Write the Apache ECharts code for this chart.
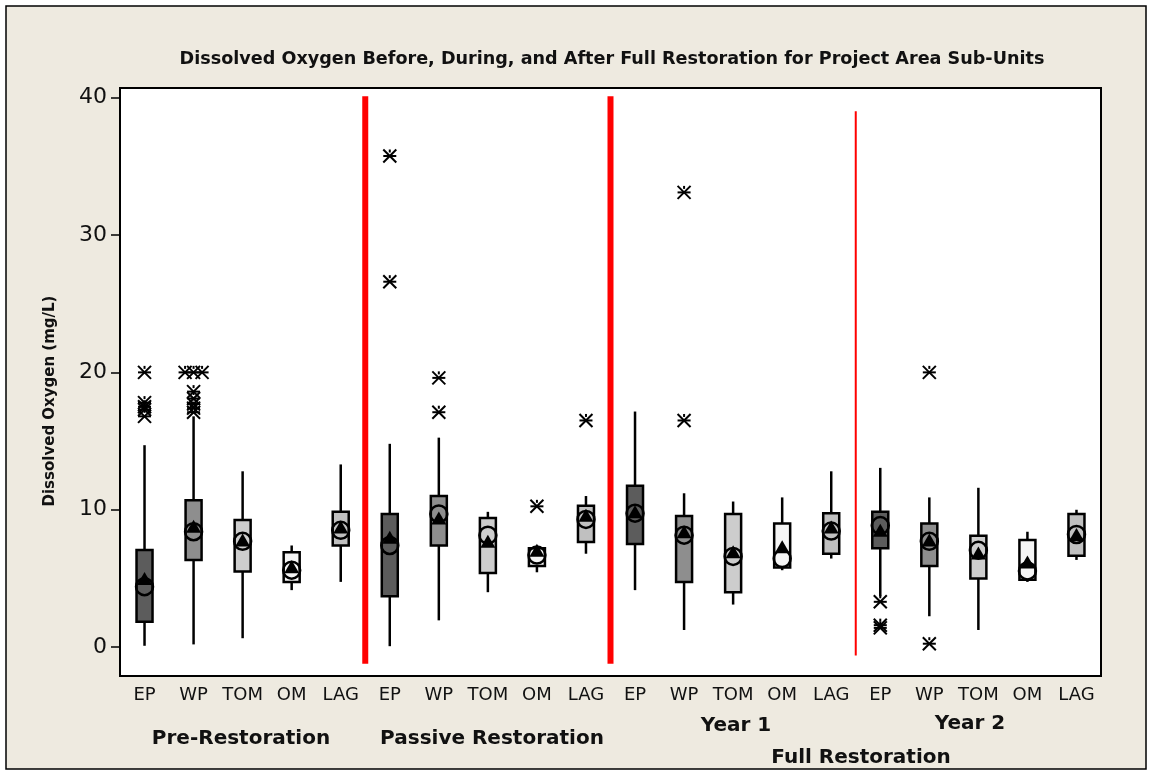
<!DOCTYPE html>
<html>
<head>
<meta charset="utf-8">
<script src="https://cdn.jsdelivr.net/npm/echarts@6/dist/echarts.min.js"></script>
<style>
html,body{margin:0;padding:0;background:#ffffff;}
#chart{width:1151px;height:772px;}
</style>
</head>
<body>
<div id="chart"></div>
<script>
// ---------------- DATA ----------------
const subUnits = ['EP', 'WP', 'TOM', 'OM', 'LAG'];
const phaseNames = ['Pre-Restoration', 'Passive Restoration', 'Year 1', 'Year 2'];
const yTicks = [0, 10, 20, 30, 40];

// per category (20 = 4 phases x 5 sub-units)
const whiskerLow  = [0.1, 0.2, 0.65, 4.15, 4.75,   0.07, 1.95, 4.0, 5.45, 6.8,   4.15, 1.25, 3.1, 5.6, 6.45,   3.7, 2.25, 1.25, 4.75, 6.35];
const boxLow      = [1.85, 6.35, 5.5, 4.75, 7.4,   3.7, 7.4, 5.4, 5.9, 7.65,     7.5, 4.75, 4.0, 5.8, 6.8,     7.2, 5.9, 5.0, 4.9, 6.65];
const boxHigh     = [7.07, 10.7, 9.25, 6.9, 9.85,  9.7, 11.0, 9.4, 7.2, 10.3,    11.75, 9.55, 9.7, 9.0, 9.75,  9.85, 9.0, 8.1, 7.8, 9.7];
const whiskerHigh = [14.7, 16.8, 12.8, 7.4, 13.3,  14.8, 15.25, 9.85, 7.2, 11.0, 17.15, 11.2, 10.6, 10.9, 12.8, 13.05, 10.9, 11.6, 8.4, 10.0];
const triangleMark= [5.0, 8.8, 7.8, 5.85, 8.75,    8.0, 9.4, 7.7, 7.05, 9.6,     9.85, 8.4, 6.95, 7.3, 8.75,   8.5, 7.8, 6.85, 6.2, 8.2];
const circleMark  = [4.4, 8.4, 7.7, 5.6, 8.5,      7.4, 9.7, 8.15, 6.7, 9.3,     9.75, 8.15, 6.6, 6.45, 8.45,  8.85, 7.7, 7.05, 5.55, 8.2];
const outliers = [
  [20.0, 17.8, 17.5, 17.3, 16.8], [20.0, 20.0, 20.0, 18.6, 18.1, 17.7, 17.4, 17.1], [], [], [],
  [35.75, 26.6], [19.6, 17.1], [], [10.25], [16.5],
  [], [33.1, 16.5], [], [], [],
  [3.3, 1.6, 1.4], [20.0, 0.25], [], [], []
];
// phase dividers: after category index, top value, bottom value
const dividerAfter  = [4, 9, 14];
const dividerTop    = [40.1, 40.1, 39.0];
const dividerBottom = [-1.2, -1.2, -0.6];

// ---------------- BUILD ----------------
const categories = [];
for (let p = 0; p < phaseNames.length; p++) subUnits.forEach(s => categories.push(s));
const boxFill = {EP: '#5c5c5c', WP: '#8e8e8e', TOM: '#cdcdcd', OM: '#f5f5f5', LAG: '#c0c0c0'};
const dividerWidth = [6, 6, 2];

const boxData = categories.map((c, i) => [i, whiskerLow[i], boxLow[i], boxHigh[i], whiskerHigh[i]]);
const triData = categories.map((c, i) => [i, triangleMark[i]]);
const circData = categories.map((c, i) => [i, circleMark[i]]);
const outData = [];
outliers.forEach((arr, i) => {
  const counts = {};
  arr.forEach(v => { counts[v] = (counts[v] || 0) + 1; });
  const seen = {};
  arr.forEach(v => {
    const n = counts[v]; const k = seen[v] = (seen[v] === undefined ? 0 : seen[v] + 1);
    outData.push([i, v, (k - (n - 1) / 2) * 8.5]);
  });
});
const divData = dividerAfter.map((a, i) => [a, dividerTop[i], dividerBottom[i], i]);

const chart = echarts.init(document.getElementById('chart'), null, {renderer: 'canvas'});
const FONT = 'DejaVu Sans';

const option = {
  backgroundColor: '#ffffff',
  animation: false,
  graphic: [
    {type: 'rect', shape: {x: 6, y: 6, width: 1140, height: 763}, style: {fill: '#EEEAE0', stroke: '#000', lineWidth: 1.5}, z: -10, silent: true},
    {type: 'text', x: 612, y: 59, style: {text: 'Dissolved Oxygen Before, During, and After Full Restoration for Project Area Sub-Units', font: 'bold 17.6px ' + FONT, fill: '#111', align: 'center', verticalAlign: 'middle'}},
    {type: 'text', x: 50, y: 401, rotation: Math.PI / 2, style: {text: 'Dissolved Oxygen (mg/L)', font: 'bold 15px ' + FONT, fill: '#111', align: 'center', verticalAlign: 'middle'}},
    {type: 'text', x: 241, y: 739, style: {text: phaseNames[0], font: 'bold 20px ' + FONT, fill: '#111', align: 'center', verticalAlign: 'middle'}},
    {type: 'text', x: 492, y: 739, style: {text: phaseNames[1], font: 'bold 20px ' + FONT, fill: '#111', align: 'center', verticalAlign: 'middle'}},
    {type: 'text', x: 736, y: 726, style: {text: phaseNames[2], font: 'bold 20px ' + FONT, fill: '#111', align: 'center', verticalAlign: 'middle'}},
    {type: 'text', x: 970, y: 724, style: {text: phaseNames[3], font: 'bold 20px ' + FONT, fill: '#111', align: 'center', verticalAlign: 'middle'}},
    {type: 'text', x: 861, y: 758, style: {text: 'Full Restoration', font: 'bold 20px ' + FONT, fill: '#111', align: 'center', verticalAlign: 'middle'}}
  ],
  grid: {left: 120, right: 50, top: 88, bottom: 96, show: true, backgroundColor: '#ffffff', borderColor: '#000', borderWidth: 2, containLabel: false},
  xAxis: {
    type: 'category', data: categories, boundaryGap: true,
    axisLine: {onZero: false, lineStyle: {color: '#000', width: 2}},
    axisTick: {alignWithLabel: true, interval: 0, length: 6, lineStyle: {color: '#000', width: 1.5}},
    axisLabel: {interval: 0, color: '#111', fontFamily: FONT, fontSize: 18, margin: 10},
    splitLine: {show: false}
  },
  yAxis: {
    type: 'value', min: -2.1, max: 40.7,
    axisLine: {show: true, lineStyle: {color: '#000', width: 2}},
    axisTick: {show: true, length: 9, customValues: yTicks, lineStyle: {color: '#000', width: 1.5}},
    axisLabel: {customValues: yTicks, color: '#111', fontFamily: FONT, fontSize: 22, margin: 13},
    splitLine: {show: false}
  },
  series: [
    {
      type: 'custom', data: boxData, clip: false, z: 3,
      encode: {x: 0, y: [1, 2, 3, 4]},
      renderItem: function (params, api) {
        const i = api.value(0);
        const pLo = api.coord([i, api.value(1)]);
        const pQ1 = api.coord([i, api.value(2)]);
        const pQ3 = api.coord([i, api.value(3)]);
        const pHi = api.coord([i, api.value(4)]);
        const w = 16;
        const x = pQ1[0];
        return {type: 'group', children: [
          {type: 'line', shape: {x1: x, y1: pQ3[1], x2: x, y2: pHi[1]}, style: {stroke: '#000', lineWidth: 2.5}},
          {type: 'line', shape: {x1: x, y1: pQ1[1], x2: x, y2: pLo[1]}, style: {stroke: '#000', lineWidth: 2.5}},
          {type: 'rect', shape: {x: x - w / 2, y: pQ3[1], width: w, height: pQ1[1] - pQ3[1]}, style: {fill: boxFill[categories[i]], stroke: '#000', lineWidth: 2.5}}
        ]};
      }
    },
    {
      type: 'custom', data: divData, clip: false, z: 2,
      encode: {x: 0, y: [1, 2]},
      renderItem: function (params, api) {
        const a = api.value(0);
        const bw = api.size([1, 0])[0];
        const top = api.coord([a, api.value(1)]);
        const bot = api.coord([a, api.value(2)]);
        const x = top[0] + bw / 2;
        return {type: 'line', shape: {x1: x, y1: top[1], x2: x, y2: bot[1]}, style: {stroke: '#ff0000', lineWidth: dividerWidth[api.value(3)]}};
      }
    },
    {
      type: 'scatter', data: triData, symbol: 'triangle', symbolSize: [15, 13], z: 4,
      itemStyle: {color: '#000', opacity: 1}
    },
    {
      type: 'scatter', data: circData, symbol: 'circle', symbolSize: 17, z: 5,
      itemStyle: {color: 'rgba(0,0,0,0)', borderColor: '#000', borderWidth: 2.5, opacity: 1}
    },
    {
      type: 'custom', data: outData, clip: false, z: 5,
      encode: {x: 0, y: 1},
      renderItem: function (params, api) {
        const p = api.coord([api.value(0), api.value(1)]);
        const cx = p[0] + api.value(2), cy = p[1], r = 6.5;
        const st = {stroke: '#000', lineWidth: 2};
        return {type: 'group', children: [
          {type: 'line', shape: {x1: cx - r, y1: cy - r, x2: cx + r, y2: cy + r}, style: st},
          {type: 'line', shape: {x1: cx + r, y1: cy - r, x2: cx - r, y2: cy + r}, style: st},
          {type: 'line', shape: {x1: cx - r, y1: cy, x2: cx + r, y2: cy}, style: st},
          {type: 'line', shape: {x1: cx, y1: cy - r, x2: cx, y2: cy - r + 3}, style: st}
        ]};
      }
    }
  ]
};
chart.setOption(option);
</script>
</body>
</html>
